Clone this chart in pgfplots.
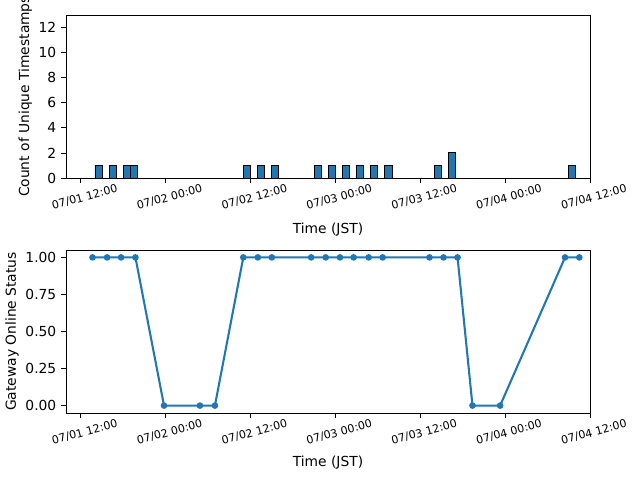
\documentclass[border=0pt]{standalone}
\usepackage{fontspec}
\setmainfont{DejaVu Sans}
\usepackage{pgfplots}
\pgfplotsset{compat=1.18}
\definecolor{tabblue}{HTML}{1F77B4}
\pgfplotsset{
  mpl/.style={
    scale only axis, width=5.24in, height=1.63in,
    xmin=9.9, xmax=84,
    axis line style={black, line width=0.6pt},
    tick align=outside, xtick pos=bottom, ytick pos=left,
    major tick length=3.5pt,
    every tick/.style={black, line width=0.6pt},
    xtick={12,24,36,48,60,72,84},
    xticklabels={07/01 12:00,07/02 00:00,07/02 12:00,07/03 00:00,07/03 12:00,07/04 00:00,07/04 12:00},
    xticklabel style={font=\fontsize{8}{9.6}\selectfont, rotate=15, anchor=north, yshift=-4pt},
    yticklabel style={font=\fontsize{10}{12}\selectfont},
    label style={font=\fontsize{10}{12}\selectfont},
    ylabel style={yshift=-2pt},
    /pgf/number format/assume math mode=true,
    xlabel={Time (JST)},
  }
}
\begin{document}
\begin{tikzpicture}
\useasboundingbox (0,0) rectangle (6.4in,4.8in);
\begin{axis}[mpl, at={(0.66in,3.02in)}, anchor=south west,
  ymin=0, ymax=13, ytick={0,2,4,6,8,10,12},
  ylabel={Count of Unique Timestamps},
  xlabel style={yshift=-1.5pt}]
\addplot[black!55, line width=0.6pt] coordinates {(10.9,0) (82.1,0)};
\addplot[ybar, bar width=1, bar shift=0pt, fill=tabblue, draw=black, line width=0.7pt] coordinates {
(14.5,1) (16.5,1) (18.5,1) (19.5,1) (35.5,1) (37.5,1) (39.5,1)
(45.5,1) (47.5,1) (49.5,1) (51.5,1) (53.5,1) (55.5,1)
(62.5,1) (64.5,2) (81.5,1)};
\end{axis}
\begin{axis}[mpl, at={(0.66in,0.67in)}, anchor=south west,
  ymin=-0.05, ymax=1.05, ytick={0,0.25,0.5,0.75,1},
  yticklabel style={/pgf/number format/.cd, fixed, fixed zerofill, precision=2},
  ylabel={Gateway Online Status}]
\addplot[tabblue, line width=1.5pt, mark=*, mark size=1.6pt, mark options={draw=tabblue, fill=tabblue}] coordinates {
(13.65,1) (15.71,1) (17.69,1) (19.72,1) (23.76,0) (28.84,0) (30.96,0)
(34.97,1) (37.03,1) (39.01,1) (44.57,1) (46.63,1) (48.64,1) (50.58,1)
(52.70,1) (54.68,1) (61.31,1) (63.29,1) (65.27,1) (67.38,0) (71.29,0)
(80.47,1) (82.49,1)};
\end{axis}
\end{tikzpicture}
\end{document}
